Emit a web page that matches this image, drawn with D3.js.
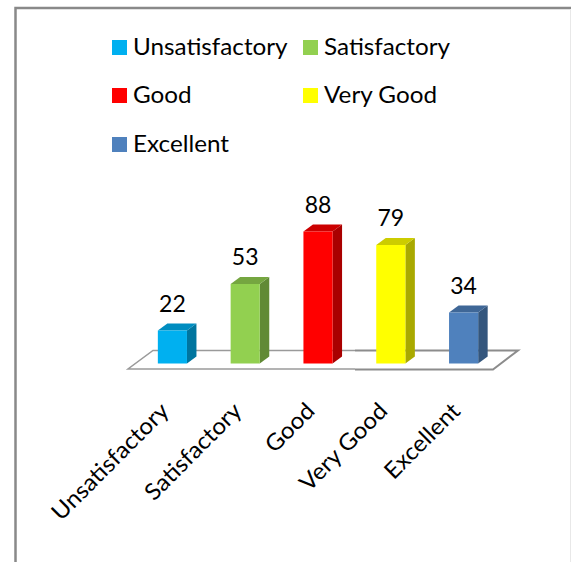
<!DOCTYPE html>
<html>
<head>
<meta charset="utf-8">
<script src="https://d3js.org/d3.v7.min.js"></script>
<style>
  html, body { margin: 0; padding: 0; background: #fff; }
  svg { display: block; }
  text { font-family: Lato, sans-serif; fill: #000; }
</style>
</head>
<body>
<div id="chart"></div>
<script>
const width = 571;
const height = 562;

const categories = ['Unsatisfactory', 'Satisfactory', 'Good', 'Very Good', 'Excellent'];
const values = [22, 53, 88, 79, 34];
const frontColors = ['#00b0f0', '#92d050', '#ff0000', '#ffff00', '#4f81bd'];
const topColors = ['#008dc0', '#75a640', '#cc0000', '#cccc00', '#3f6797'];
const sideColors = ['#00759f', '#618a35', '#a90000', '#a9a900', '#34567d'];

const depthX = 9.5;
const depthY = 7;
const fontSize = 23;
const textStretch = 1.055; // Lato is wider per height than the original's font

const px = n => n + 'px';

const x = d3.scaleBand()
  .domain(categories)
  .range([136, 500])
  .paddingInner(0.6)
  .paddingOuter(0.3);

const y = d3.scaleLinear()
  .domain([0, 88])
  .range([363.5, 231.5]);

const svg = d3.select('#chart').append('svg')
  .attr('width', width)
  .attr('height', height);

// outer frame
svg.append('path')
  .attr('d', 'M15.5,562V8H571')
  .attr('fill', 'none')
  .attr('stroke', '#898989')
  .attr('stroke-width', 2.5);
svg.append('line')
  .attr('x1', 570.5).attr('x2', 570.5)
  .attr('y1', 9).attr('y2', 562)
  .attr('stroke', '#e8e8e8');

// floor of the 3d plot, the original has a seam around x=355
svg.append('path')
  .attr('d', 'M355,350.5H153L128,369H355')
  .attr('fill', 'none')
  .attr('stroke', '#9a9a9a')
  .attr('stroke-width', 1.5);
svg.append('path')
  .attr('d', 'M355,350.5H518L493,369.5H355')
  .attr('fill', 'none')
  .attr('stroke', '#8c8c8c')
  .attr('stroke-width', 2);

const bars = svg.selectAll('.bar')
  .data(categories)
  .enter()
  .append('g')
    .classed('bar', true);

const x0 = d => x(d);
const x1 = d => x(d) + x.bandwidth();
const yOf = (d, i) => y(values[i]);

bars.append('polygon')
  .attr('fill', (d, i) => sideColors[i])
  .attr('points', (d, i) => [
    [x1(d), y(0)],
    [x1(d), yOf(d, i)],
    [x1(d) + depthX, yOf(d, i) - depthY],
    [x1(d) + depthX, y(0) - depthY]
  ].join(' '));

bars.append('polygon')
  .attr('fill', (d, i) => topColors[i])
  .attr('points', (d, i) => [
    [x0(d), yOf(d, i)],
    [x0(d) + depthX, yOf(d, i) - depthY],
    [x1(d) + depthX, yOf(d, i) - depthY],
    [x1(d), yOf(d, i)]
  ].join(' '));

bars.append('rect')
  .attr('x', x0)
  .attr('y', yOf)
  .attr('width', x.bandwidth())
  .attr('height', (d, i) => y(0) - yOf(d, i))
  .attr('fill', (d, i) => frontColors[i]);

bars.append('text')
  .attr('x', d => x(d) + x.bandwidth() / 2)
  .attr('y', (d, i) => yOf(d, i) - 19)
  .attr('text-anchor', 'middle')
  .style('font-size', px(fontSize))
  .text((d, i) => values[i]);

// category labels, rotated like the original
svg.selectAll('.cat-label')
  .data(categories)
  .enter()
  .append('text')
    .classed('cat-label', true)
    .attr('text-anchor', 'end')
    .attr('transform', d => `translate(${x(d) + x.bandwidth() / 2 - 2},${y(0) + 49}) rotate(-45) scale(${textStretch},1)`)
    .style('font-size', px(fontSize))
    .text(d => d);

// legend
const legendCols = [112, 303];
const legendRows = [40, 88, 137];
const legend = svg.selectAll('.legend')
  .data(categories)
  .enter()
  .append('g')
    .classed('legend', true)
    .attr('transform', (d, i) => `translate(${legendCols[i % 2]},${legendRows[Math.floor(i / 2)]})`);

legend.append('rect')
  .attr('width', 15)
  .attr('height', 15)
  .attr('fill', (d, i) => frontColors[i]);

legend.append('text')
  .attr('transform', `translate(21,15) scale(${textStretch},1)`)
  .style('font-size', px(fontSize))
  .text(d => d);
</script>
</body>
</html>
